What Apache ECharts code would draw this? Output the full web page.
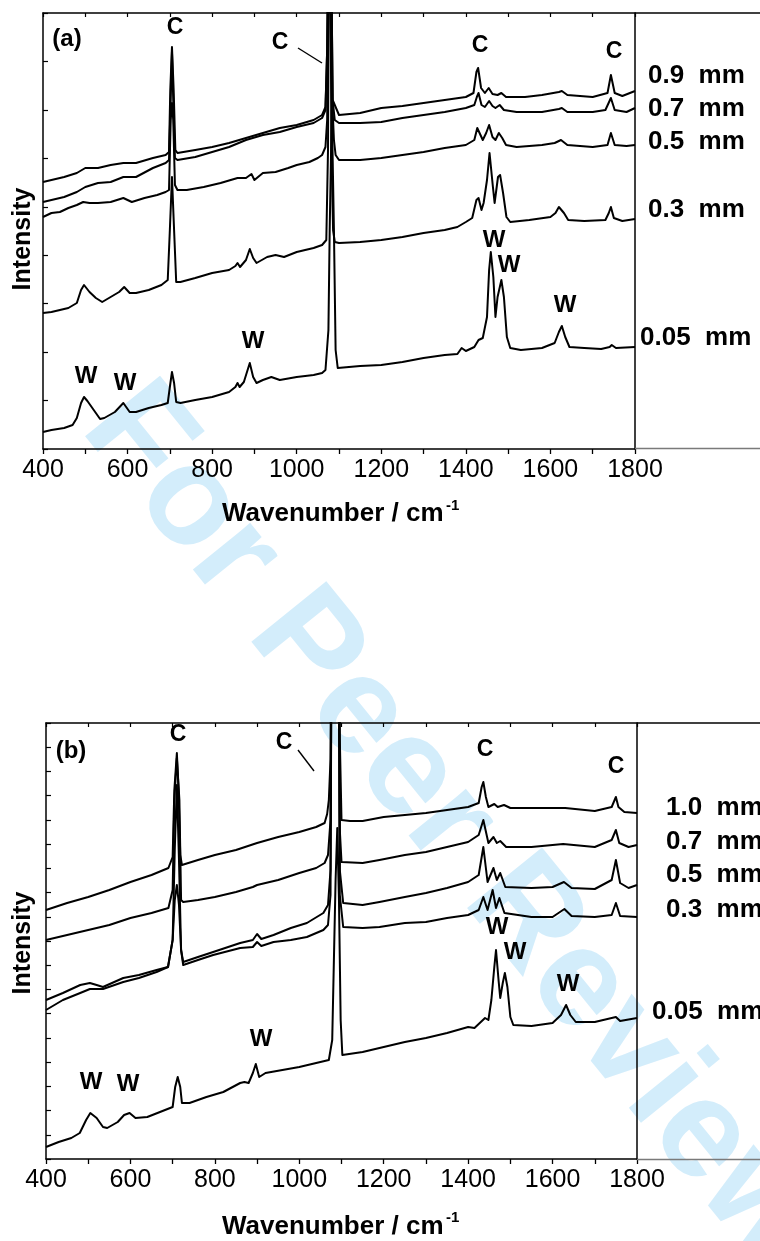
<!DOCTYPE html>
<html>
<head>
<meta charset="utf-8">
<script src="https://cdn.jsdelivr.net/npm/echarts/dist/echarts.min.js"></script>
<style>
  html, body { margin: 0; padding: 0; background: #ffffff; }
  #chart { width: 760px; height: 1241px; }
</style>
</head>
<body>
<div id="chart"></div>
<script>
// Raman spectra of coated samples: wavenumber (cm-1) against intensity (a.u., offset traces)

// ---- panel (a) ----
const wnA005 = [400,420,450,470,480,490,497,505,520,535,545,570,590,605,620,650,680,695,700,705,710,715,725,760,800,840,855,860,865,875,889,897,905,920,940,960,1000,1040,1060,1068,1075,1078,1083,1088,1092,1097,1100,1150,1200,1250,1300,1350,1380,1390,1400,1420,1430,1440,1450,1455,1459,1465,1470,1475,1484,1490,1497,1505,1530,1580,1610,1620,1627,1635,1645,1680,1720,1740,1745,1755,1800];
const intA005 = [17,19,21,24,31,46,52,48,39,30,31,37,46,37,37,41,44,46,62,77,66,47,46,49,52,57,62,66,62,67,86,72,66,69,72,69,72,74,76,79,119,219,339,219,99,81,81,83,84,87,91,94,95,101,98,102,109,111,132,179,197,172,132,152,169,152,112,101,99,101,106,117,123,112,102,101,100,102,104,101,102];

const wnA03 = [400,420,460,480,490,497,510,525,540,560,580,592,605,620,650,680,695,700,705,710,715,725,760,800,840,855,860,866,880,889,897,905,930,950,970,1000,1040,1060,1070,1074,1078,1082,1086,1090,1100,1150,1200,1250,1300,1350,1380,1400,1415,1425,1430,1437,1442,1450,1456,1464,1468,1476,1481,1488,1496,1505,1550,1600,1612,1620,1624,1632,1642,1680,1730,1738,1743,1750,1770,1800];
const intA03 = [136,137,141,146,159,164,157,151,147,152,157,162,156,156,159,164,169,219,272,219,167,167,171,176,179,183,186,182,189,200,191,186,192,194,192,197,201,204,209,299,649,299,219,207,206,207,209,212,216,219,222,227,231,249,251,239,246,269,296,262,246,272,274,256,232,227,229,232,236,242,243,236,229,228,229,236,242,231,228,230];

const wnA05 = [400,420,440,460,480,495,510,530,560,590,610,640,670,690,698,702,705,708,712,718,740,780,820,860,880,893,900,920,950,980,1000,1030,1050,1060,1068,1072,1078,1084,1088,1092,1100,1150,1200,1250,1300,1350,1400,1420,1427,1431,1440,1448,1455,1463,1470,1478,1486,1495,1520,1580,1610,1625,1640,1700,1735,1743,1752,1780,1800];
const intA05 = [232,236,237,241,244,247,246,246,247,251,247,251,254,257,259,329,346,329,264,259,259,262,266,271,271,275,269,276,277,281,284,287,291,294,302,329,649,349,309,294,289,289,291,294,297,301,304,309,321,322,309,316,324,312,309,316,311,304,302,304,306,309,304,302,304,316,304,303,304];

const wnA07 = [400,420,450,480,500,530,560,590,620,660,690,698,702,705,708,712,718,760,800,840,880,920,960,1000,1040,1060,1068,1072,1078,1085,1090,1100,1150,1200,1250,1300,1350,1400,1420,1426,1430,1437,1445,1455,1463,1470,1480,1490,1520,1580,1620,1627,1640,1700,1730,1743,1752,1780,1800];
const intA07 = [247,249,252,257,262,266,267,272,272,281,286,289,349,397,349,291,289,292,297,302,309,314,317,322,326,331,339,399,649,349,329,326,326,327,331,334,337,341,344,352,356,344,342,348,343,341,344,339,337,337,340,341,337,337,339,351,339,337,341];

const wnA09 = [400,420,450,480,500,530,560,590,620,660,690,698,701,705,709,713,718,760,800,840,880,920,960,1000,1040,1060,1068,1072,1078,1085,1090,1100,1150,1200,1250,1300,1350,1400,1418,1425,1429,1436,1445,1454,1463,1475,1484,1495,1540,1580,1620,1627,1640,1700,1735,1743,1752,1770,1800];
const intA09 = [267,269,272,276,281,281,284,286,286,291,294,297,359,402,359,299,296,299,302,306,311,316,321,324,329,334,342,399,649,349,344,334,336,341,343,346,349,352,356,377,381,361,356,361,355,354,356,352,352,354,357,358,354,352,356,374,356,353,358];

// ---- panel (b) ----
const wnB005 = [400,430,460,480,495,505,520,535,545,570,585,598,612,640,670,700,706,712,718,722,740,780,820,860,870,880,890,897,905,920,960,1000,1040,1070,1078,1082,1086,1090,1094,1098,1102,1150,1200,1250,1300,1350,1400,1415,1440,1448,1455,1462,1466,1472,1476,1482,1487,1493,1500,1507,1550,1600,1620,1632,1642,1655,1700,1750,1760,1800];
const intB005 = [12,17,21,26,39,46,41,32,31,37,44,46,41,42,47,52,72,82,72,56,56,62,67,76,77,76,86,95,82,86,89,92,96,99,119,199,279,331,259,139,104,107,112,117,121,126,132,131,141,139,159,192,209,179,161,176,186,172,142,134,133,136,144,154,144,137,137,142,138,141];

const wnB03 = [400,440,481,504,535,583,620,662,689,700,705,710,715,720,725,760,796,860,890,900,910,939,980,1018,1057,1068,1074,1078,1092,1096,1104,1150,1190,1250,1300,1350,1400,1425,1436,1446,1458,1466,1474,1486,1550,1600,1628,1645,1700,1740,1750,1760,1800];
const intB03 = [149,159,166,170,170,177,181,187,192,219,259,274,254,209,194,199,204,211,212,217,213,217,219,222,229,234,264,700,700,264,232,231,232,236,237,241,244,249,262,249,269,251,261,246,242,242,250,243,242,244,256,243,242];

const wnB05 = [400,440,481,504,520,535,583,620,662,689,700,705,710,715,720,725,760,796,860,890,900,910,939,980,1018,1057,1068,1074,1078,1092,1096,1104,1150,1190,1250,1300,1350,1400,1425,1436,1446,1460,1468,1476,1488,1550,1600,1627,1645,1700,1740,1750,1760,1780,1800];
const intB05 = [159,166,174,176,174,172,181,184,189,192,219,309,374,299,209,197,202,207,216,219,225,220,224,231,236,246,254,289,700,700,289,256,254,257,262,266,271,277,284,312,277,291,279,286,272,271,272,277,271,270,279,299,276,271,274];

const wnB07 = [400,450,500,550,600,650,690,700,704,710,716,720,725,760,800,850,890,900,950,1000,1040,1060,1068,1074,1078,1092,1096,1100,1150,1190,1250,1300,1350,1400,1425,1436,1448,1460,1468,1476,1490,1550,1625,1700,1740,1750,1758,1780,1800];
const intB07 = [219,224,229,234,241,246,251,269,359,401,359,259,257,259,262,267,272,274,279,286,291,296,304,339,700,700,329,297,296,299,304,307,312,317,324,339,316,322,316,318,312,312,315,312,319,329,316,312,314];

const wnB10 = [400,450,500,550,600,650,690,700,704,710,714,718,722,760,800,850,900,950,1000,1040,1060,1066,1070,1074,1078,1092,1096,1100,1120,1150,1200,1250,1300,1350,1400,1425,1432,1436,1442,1448,1462,1470,1485,1500,1550,1630,1700,1740,1750,1756,1770,1800];
const intB10 = [249,256,262,269,277,284,291,302,369,406,369,304,294,299,304,309,316,322,327,332,336,345,359,400,700,700,420,339,338,338,342,344,346,349,352,356,372,377,362,352,355,352,354,351,351,351,348,352,362,352,347,346];

const xTicks = [400, 600, 800, 1000, 1200, 1400, 1600, 1800];
const thicknessA = ['0.9  mm', '0.7  mm', '0.5  mm', '0.3  mm', '0.05  mm'];
const thicknessB = ['1.0  mm', '0.7  mm', '0.5  mm', '0.3  mm', '0.05  mm'];

const FONT = 'Liberation Sans, Arial, Helvetica, sans-serif';
const BLACK = '#000000';

function pairs(xs, ys) {
  return xs.map(function (x, i) { return [x, ys[i]]; });
}

function spectrum(name, xs, ys, gi) {
  return {
    type: 'line', name: name, xAxisIndex: gi * 2, yAxisIndex: gi * 2,
    data: pairs(xs, ys), showSymbol: false, symbol: 'none',
    clip: true, animation: false, z: 5,
    lineStyle: { color: BLACK, width: 2, join: 'round' }
  };
}

function bottomAxis(gi) {
  return {
    type: 'value', gridIndex: gi, position: 'bottom',
    min: xTicks[0], max: xTicks[xTicks.length - 1], interval: 200,
    axisLine: { show: true, onZero: false, lineStyle: { color: BLACK, width: 1.5 } },
    axisTick: { show: true, inside: false, length: 5, lineStyle: { color: BLACK, width: 1.3 } },
    minorTick: { show: true, splitNumber: 2, length: 5, lineStyle: { color: BLACK, width: 1.3 } },
    axisLabel: { color: BLACK, fontSize: 25, fontFamily: FONT, margin: 9,
                 formatter: function (v) { return String(v); } },
    splitLine: { show: false }, minorSplitLine: { show: false }
  };
}

function topAxis(gi) {
  return {
    type: 'value', gridIndex: gi, position: 'top',
    min: xTicks[0], max: xTicks[xTicks.length - 1], interval: 100,
    axisLine: { show: true, onZero: false, lineStyle: { color: BLACK, width: 1.5 } },
    axisTick: { show: true, inside: true, length: 4, lineStyle: { color: BLACK, width: 1.2 } },
    axisLabel: { show: false }, splitLine: { show: false }
  };
}

function leftAxis(gi, steps) {
  return {
    type: 'value', gridIndex: gi, position: 'left',
    min: 0, max: 436, interval: 436 / steps,
    axisLine: { show: true, onZero: false, lineStyle: { color: BLACK, width: 1.5 } },
    axisTick: { show: true, inside: true, length: 5, lineStyle: { color: BLACK, width: 1.2 } },
    axisLabel: { show: false }, splitLine: { show: false }
  };
}

function rightAxis(gi) {
  return {
    type: 'value', gridIndex: gi, position: 'right', min: 0, max: 436,
    axisLine: { show: true, onZero: false, lineStyle: { color: BLACK, width: 1.5 } },
    axisTick: { show: false }, axisLabel: { show: false }, splitLine: { show: false }
  };
}

function txt(s, x, y, size, align) {
  return {
    type: 'text', z: 20,
    style: {
      text: s, x: x, y: y, fill: BLACK, fontFamily: FONT, fontSize: size,
      fontWeight: 'bold', textAlign: align || 'center', textVerticalAlign: 'middle'
    }
  };
}

function vtxt(s, x, y, size) {
  return {
    type: 'text', z: 20, x: x, y: y, rotation: Math.PI / 2,
    style: {
      text: s, x: 0, y: 0, fill: BLACK, fontFamily: FONT, fontSize: size,
      fontWeight: 'bold', textAlign: 'center', textVerticalAlign: 'middle'
    }
  };
}

function seg(x1, y1, x2, y2, color, w) {
  return { type: 'line', z: 20, shape: { x1: x1, y1: y1, x2: x2, y2: y2 },
           style: { stroke: color, lineWidth: w } };
}

const graphics = [
  // faint diagonal watermark behind the traces
  { type: 'text', z: -10, x: 452, y: 828, rotation: -51 * Math.PI / 180,
    style: { text: 'For Peer Review', x: 0, y: 0, fill: '#d3edfb', fontFamily: FONT,
             fontSize: 140, fontWeight: 'bold', textAlign: 'center', textVerticalAlign: 'middle' } },

  // panel (a) annotations
  txt('(a)', 67, 39, 24),
  txt('C', 175, 28, 23), txt('C', 280, 43, 23), txt('C', 480, 46, 23), txt('C', 614, 52, 23),
  seg(298, 48, 322, 63, BLACK, 1.4),
  txt('W', 494, 240, 24), txt('W', 509, 265, 24), txt('W', 565, 305, 24),
  txt('W', 86, 376, 24), txt('W', 125, 383, 24), txt('W', 253, 341, 24),
  txt(thicknessA[0], 648, 76, 26, 'left'), txt(thicknessA[1], 648, 109, 26, 'left'),
  txt(thicknessA[2], 648, 142, 26, 'left'), txt(thicknessA[3], 648, 210, 26, 'left'),
  txt(thicknessA[4], 640, 338, 26, 'left'),
  seg(635, 13, 760, 13, BLACK, 1.5), seg(635, 448.5, 760, 448.5, '#7a7a7a', 1.5),
  txt('Wavenumber / cm', 222, 514, 26, 'left'), txt('-1', 446, 506, 15, 'left'),
  vtxt('Intensity', 23, 239, 25),

  // panel (b) annotations
  txt('(b)', 71, 751, 24),
  txt('C', 178, 735, 23), txt('C', 284, 743, 23), txt('C', 485, 750, 23), txt('C', 616, 767, 23),
  seg(298, 750, 314, 771, BLACK, 1.4),
  txt('W', 497, 927, 24), txt('W', 515, 952, 24), txt('W', 568, 984, 24),
  txt('W', 91, 1082, 24), txt('W', 128, 1084, 24), txt('W', 261, 1039, 24),
  txt(thicknessB[0], 666, 808, 26, 'left'), txt(thicknessB[1], 666, 842, 26, 'left'),
  txt(thicknessB[2], 666, 875, 26, 'left'), txt(thicknessB[3], 666, 910, 26, 'left'),
  txt(thicknessB[4], 652, 1012, 26, 'left'),
  seg(637, 723, 760, 723, BLACK, 1.5), seg(637, 1159.5, 760, 1159.5, '#7a7a7a', 1.5),
  txt('Wavenumber / cm', 222, 1227, 26, 'left'), txt('-1', 446, 1218, 15, 'left'),
  vtxt('Intensity', 23, 943, 25)
];

const chart = echarts.init(document.getElementById('chart'), null, { renderer: 'canvas' });
chart.setOption({
  backgroundColor: '#ffffff',
  animation: false,
  grid: [
    { left: 43, top: 13, width: 592, height: 436, containLabel: false },
    { left: 46, top: 723, width: 591, height: 436, containLabel: false }
  ],
  xAxis: [bottomAxis(0), topAxis(0), bottomAxis(1), topAxis(1)],
  yAxis: [leftAxis(0, 9), rightAxis(0), leftAxis(1, 18), rightAxis(1)],
  series: [
    spectrum(thicknessA[4], wnA005, intA005, 0),
    spectrum(thicknessA[3], wnA03, intA03, 0),
    spectrum(thicknessA[2], wnA05, intA05, 0),
    spectrum(thicknessA[1], wnA07, intA07, 0),
    spectrum(thicknessA[0], wnA09, intA09, 0),
    spectrum(thicknessB[4], wnB005, intB005, 1),
    spectrum(thicknessB[3], wnB03, intB03, 1),
    spectrum(thicknessB[2], wnB05, intB05, 1),
    spectrum(thicknessB[1], wnB07, intB07, 1),
    spectrum(thicknessB[0], wnB10, intB10, 1)
  ],
  graphic: { elements: graphics }
});
</script>
</body>
</html>
